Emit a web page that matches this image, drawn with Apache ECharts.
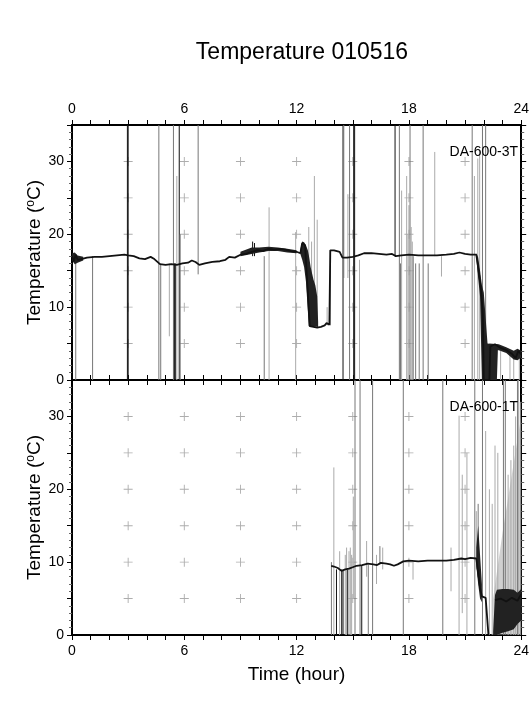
<!DOCTYPE html>
<html>
<head>
<meta charset="utf-8">
<script src="https://cdn.jsdelivr.net/npm/echarts@6/dist/echarts.min.js"></script>
<style>
html, body { margin: 0; padding: 0; background: #fff; }
#main { width: 532px; height: 708px; }
</style>
</head>
<body>
<div id="main"></div>
<script>
// axis labels and the little "+" grid
var hourLabels = [0, 6, 12, 18, 24];
var tempLabels = [0, 10, 20, 30];
var crossHours = [3, 6, 9, 12, 15, 18, 21];
var crossTemps = [5, 10, 15, 20, 25, 30];

// DA-600-3T : [hour, temp]
var lineTop = [
  [0, 17.0], [0.1, 16.3], [0.2, 17.2], [0.3, 16.5], [0.5, 16.6], [0.8, 16.8], [1.2, 16.9], [1.6, 16.9],
  [2.0, 17.0], [2.4, 17.1], [2.8, 17.2], [3.0, 17.1], [3.3, 17.0], [3.6, 16.7], [3.9, 16.6], [4.2, 16.9],
  [4.4, 16.6], [4.7, 15.9], [5.0, 15.8], [5.3, 15.9], [5.6, 15.8], [5.9, 16.0], [6.2, 16.1], [6.4, 16.4],
  [6.6, 16.2], [6.8, 15.8], [7.1, 16.0], [7.5, 16.2], [7.9, 16.3], [8.2, 16.5], [8.4, 16.9], [8.7, 16.8],
  [9.0, 17.2], [9.3, 17.3], [9.6, 17.6], [9.9, 17.8], [10.2, 17.7], [10.5, 18.0], [10.8, 17.9], [11.1, 18.0],
  [11.4, 17.9], [11.7, 17.7], [12.0, 17.6], [12.2, 17.4], [12.3, 18.8], [12.45, 18.5], [12.6, 12.0], [12.7, 7.4],
  [13.1, 7.2], [13.3, 7.3], [13.5, 7.5], [13.6, 7.8], [13.75, 7.6], [13.8, 17.8], [14.0, 17.8], [14.3, 17.6],
  [14.45, 16.8], [14.7, 16.8], [15.0, 16.9], [15.3, 17.1], [15.6, 17.4], [16.0, 17.4], [16.4, 17.3], [16.8, 17.2],
  [17.1, 17.3], [17.3, 17.0], [17.6, 17.1], [18.0, 17.2], [18.5, 17.1], [19.0, 17.1], [19.5, 17.1], [20.0, 17.2],
  [20.4, 17.3], [20.7, 17.5], [21.0, 17.3], [21.3, 17.2], [21.6, 17.2], [21.75, 14.5], [21.85, 12.5], [21.95, 9.0],
  [22.0, 0], [22.3, 0], [22.35, 4.6], [22.6, 4.9], [22.9, 4.4], [23.2, 4.1], [23.5, 3.6], [23.7, 3.0],
  [23.85, 4.0], [24, 3.5]
];
// noisy stretches: [hour, low, high]
var bandsTop = [
  [[0, 16.4, 17.4], [0.15, 15.9, 17.5], [0.3, 16.1, 17.1], [0.6, 16.4, 16.9]],
  [[9.0, 17.0, 17.6], [9.6, 17.3, 18.2], [10.0, 17.5, 18.2], [10.5, 17.7, 18.3], [11.0, 17.7, 18.2], [11.5, 17.5, 18.0], [12.0, 17.4, 17.8]],
  [[12.2, 17.3, 17.9], [12.3, 16.5, 19.0], [12.4, 15.5, 18.9], [12.5, 13.5, 18.5], [12.6, 9.5, 17.8], [12.65, 7.4, 17.2], [12.75, 7.3, 15.5], [12.9, 7.3, 13.8], [13.0, 7.3, 13.0], [13.1, 7.3, 11.5], [13.15, 7.2, 8.0]],
  [[21.6, 16.8, 17.4], [21.7, 14.0, 16.8], [21.8, 11.5, 15.0], [21.9, 0, 13.0], [22.0, 0, 12.0], [22.2, 0, 5.0], [22.7, 0, 4.8], [22.75, 3.8, 4.9]],
  [[22.3, 4.1, 5.0], [22.8, 4.1, 4.9], [23.2, 3.7, 4.5], [23.6, 2.8, 4.0], [23.8, 2.7, 4.3], [24, 3.1, 4.0]]
];
// spikes: [hour, low, high, shade 0 black / 1 grey / 2 light grey]
var spikesTop = [
  [0.2, 0, 17, 1], [1.1, 0, 17, 1], [2.96, 0, 35, 0], [3.0, 0, 35, 0], [4.64, 0, 35, 1], [4.74, 0, 16, 1],
  [5.2, 6, 16, 2], [5.42, 0, 35, 1], [5.47, 0, 16, 0], [5.52, 0, 16, 0], [5.6, 0, 28, 2], [5.73, 0, 35, 0],
  [5.78, 0, 20, 1], [6.74, 14.5, 35, 1], [9.65, 17, 19, 0], [9.75, 17, 18.8, 0], [10.27, 0, 17, 1],
  [10.53, 0, 23.7, 2], [11.95, 0, 20.3, 2],
  [12.65, 13, 21, 2], [12.8, 8, 19, 2], [12.95, 7.5, 28, 2], [13.1, 7.5, 22, 2], [13.63, 7.5, 10, 2],
  [13.8, 7.5, 17.8, 1], [14.48, 0, 35, 0], [14.52, 14, 35, 1], [14.74, 14, 25.5, 2], [14.83, 0, 35, 1],
  [15.05, 0, 35, 0], [15.1, 0, 35, 0], [15.36, 0, 16.5, 2], [17.26, 17, 35, 0], [17.49, 0, 35, 1],
  [17.55, 0, 16, 1], [17.61, 0, 26, 2], [17.88, 0, 28, 2], [17.95, 0, 20, 2], [18.0, 0, 24, 2], [18.06, 0, 35, 1],
  [18.12, 0, 21, 2], [18.18, 0, 19, 2], [18.23, 0, 17, 1], [18.36, 0, 16, 1], [18.55, 0, 16, 1], [18.76, 0, 35, 1],
  [19.03, 0, 16, 1], [19.38, 17, 31.3, 2], [19.74, 14.2, 17, 2], [21.38, 0, 35, 1], [21.5, 0, 28, 2],
  [21.68, 0, 30.4, 2], [21.78, 0, 31.5, 2], [21.93, 0, 35, 1], [22.1, 0, 35, 1], [22.9, 0, 4, 2],
  [23.4, 0, 4, 2], [23.6, 0, 3, 2], [23.9, 0, 4, 2]
];

// DA-600-1T
var lineBottom = [
  [13.85, 9.5], [14.0, 9.4], [14.2, 9.2], [14.4, 8.8], [14.6, 9.0], [14.8, 9.1], [15.0, 9.3], [15.2, 9.5],
  [15.5, 9.6], [15.8, 9.8], [16.1, 9.7], [16.3, 9.6], [16.5, 9.9], [16.8, 9.8], [17.0, 9.7], [17.2, 9.5],
  [17.4, 9.7], [17.7, 10.1], [18.0, 10.2], [18.5, 10.1], [19.0, 10.2], [19.5, 10.2], [20.0, 10.2], [20.4, 10.3],
  [20.8, 10.5], [21.0, 10.4], [21.3, 10.6], [21.6, 10.5], [21.8, 6.5], [21.9, 5.3], [22.0, 5.5], [22.1, 5.1],
  [22.2, 5.3], [22.25, 0], [22.4, null], [22.6, 4.8], [22.9, 5.0], [23.2, 4.6], [23.5, 5.1], [23.8, 4.7],
  [24, 5.6]
];
var bandsBottom = [
  [[22.5, 0, 5], [23.0, 0, 14], [23.5, 0, 22], [24, 0, 30]],
  [[21.6, 9.5, 12], [21.7, 7, 15], [21.8, 5, 11], [21.9, 4.5, 7]],
  [[22.5, 0, 0.5], [22.6, 0, 5.5], [22.7, 0, 6.2], [23.0, 0.3, 6.3], [23.3, 0.5, 6.3], [23.6, 0.8, 6.2], [23.8, 1.5, 5.8], [24, 2.0, 6.3]]
];
var spikesBottom = [
  [13.86, 0, 10, 1], [13.99, 0, 23, 2], [14.13, 0, 9, 0], [14.3, 0, 11.5, 2], [14.41, 0, 9, 0], [14.48, 0, 8.8, 0],
  [14.6, 0, 11, 2], [14.67, 0, 12, 2], [14.73, 0, 9, 0], [14.8, 0, 11.5, 2], [14.87, 0, 12, 2], [14.94, 0, 11, 2],
  [15.03, 5, 19, 2], [15.12, 0, 35, 1], [15.39, 0, 35, 1], [15.48, 0, 9.5, 0], [15.74, 8, 12.9, 2],
  [15.83, 0, 9.6, 1], [16.06, 0, 35, 1], [16.27, 7, 11, 2], [16.45, 9.7, 12.2, 1], [16.6, 9, 12, 2],
  [17.7, 0, 35, 1], [18.22, 7.6, 10, 2], [19.81, 0, 35, 1], [20.25, 6, 12, 2], [20.68, 0, 30.1, 2],
  [20.85, 3, 22, 2], [21.1, 0, 25, 2], [21.52, 0, 35, 1], [21.6, 9, 17, 2], [21.7, 8, 18, 1],
  [21.93, 0, 35, 1], [22.1, 0, 28, 2], [22.3, 0, 20, 2], [22.45, 0, 18, 2], [22.6, 0, 26, 2], [22.75, 0, 25, 2],
  [23.05, 0, 35, 1], [23.15, 0, 35, 1], [23.3, 0, 22, 2], [23.45, 0, 24, 2], [23.6, 0, 26, 2], [23.7, 0, 30, 2],
  [23.8, 0, 35, 1], [23.85, 0, 35, 2], [23.95, 0, 32, 2]
];

var shades = ['#111', '#777', '#aaa'];
var font = 'Liberation Sans, Arial, Helvetica, sans-serif';

var crosses = [];
crossHours.forEach(function (h) {
  crossTemps.forEach(function (t) { crosses.push([h, t]); });
});

function spikeItem(params, api) {
  var p0 = api.coord([api.value(0), api.value(1)]);
  var p1 = api.coord([api.value(0), api.value(2)]);
  return {
    type: 'line',
    shape: { x1: p0[0], y1: p0[1], x2: p1[0], y2: p1[1] },
    style: { stroke: shades[api.value(3)], lineWidth: 1 }
  };
}

function bandSeries(band, idx, fill, z) {
  return {
    type: 'custom', xAxisIndex: idx * 2, yAxisIndex: idx * 2, z: z, silent: true, clip: true,
    data: band,
    renderItem: function (params, api) {
      if (params.dataIndex !== 0) return;
      var pts = band.map(function (p) { return api.coord([p[0], p[1]]); });
      band.slice().reverse().forEach(function (p) { pts.push(api.coord([p[0], p[2]])); });
      return { type: 'polygon', shape: { points: pts }, style: { fill: fill } };
    }
  };
}

function xAxis(grid, pos, labels, name) {
  return {
    type: 'value', gridIndex: grid, position: pos, min: 0, max: 24, interval: 6,
    name: name || '', nameLocation: 'middle', nameGap: 30, nameMoveOverlap: false,
    nameTextStyle: { fontFamily: font, fontSize: 19, color: '#000' },
    axisLine: { onZero: false, lineStyle: { color: '#000', width: 2 } },
    axisTick: { show: true, length: 5, lineStyle: { color: '#000' } },
    minorTick: { show: true, splitNumber: 6, length: 5, lineStyle: { color: '#000' } },
    axisLabel: {
      show: labels, margin: 9, fontFamily: font, fontSize: 14, color: '#000',
      formatter: function (v) { return hourLabels.indexOf(v) >= 0 ? String(v) : ''; }
    },
    splitLine: { show: false }
  };
}

function yAxis(grid, pos, labels) {
  return {
    type: 'value', gridIndex: grid, position: pos, min: 0, max: 35, interval: 5,
    name: labels ? 'Temperature ({s|o}C)' : '', nameLocation: 'middle', nameGap: 28,
    nameMoveOverlap: false,
    nameTextStyle: {
      fontFamily: font, fontSize: 19, color: '#000',
      rich: { s: { fontFamily: font, fontSize: 12, color: '#000', verticalAlign: 'top', lineHeight: 14, padding: [0, 0, 8, 0] } }
    },
    axisLine: { onZero: false, lineStyle: { color: '#000', width: 2 } },
    axisTick: { show: true, length: 5, lineStyle: { color: '#000' } },
    minorTick: { show: true, splitNumber: 5, length: 3, lineStyle: { color: '#666' } },
    axisLabel: {
      show: labels, margin: 8, fontFamily: font, fontSize: 14, color: '#000',
      formatter: function (v) { return tempLabels.indexOf(v) >= 0 ? String(v) : ''; }
    },
    splitLine: { show: false }
  };
}

var series = [];
[[lineTop, bandsTop, spikesTop], [lineBottom, bandsBottom, spikesBottom]].forEach(function (set, i) {
  series.push({
    type: 'scatter', xAxisIndex: i * 2, yAxisIndex: i * 2, silent: true, z: 1,
    symbol: 'path://M4.5,0h1v4.5h4.5v1h-4.5v4.5h-1v-4.5h-4.5v-1h4.5z', symbolSize: 9,
    itemStyle: { color: '#999' }, data: crosses
  });
  set[1].forEach(function (b, k) {
    var light = (i === 1 && k === 0);
    series.push(bandSeries(b, i, light ? 'rgba(150,150,150,0.45)' : '#222', light ? 2 : 4));
  });
  series.push({
    type: 'custom', xAxisIndex: i * 2, yAxisIndex: i * 2, silent: true, z: 3, clip: true,
    renderItem: spikeItem, data: set[2]
  });
  series.push({
    type: 'line', xAxisIndex: i * 2, yAxisIndex: i * 2, silent: true, z: 5,
    showSymbol: false, symbol: 'none', connectNulls: false,
    lineStyle: { color: '#111', width: 1.8 }, data: set[0]
  });
});

var myChart = echarts.init(document.getElementById('main'), null, { renderer: 'canvas' });
myChart.setOption({
  backgroundColor: '#fff',
  animation: false,
  title: [
    { text: 'Temperature 010516', left: 297, textAlign: 'center', top: 36,
      textStyle: { fontFamily: font, fontSize: 23, fontWeight: 'normal', color: '#000' } },
    { text: 'DA-600-3T', right: 9, top: 140,
      textStyle: { fontFamily: font, fontSize: 14, fontWeight: 'normal', color: '#000' } },
    { text: 'DA-600-1T', right: 9, top: 395,
      textStyle: { fontFamily: font, fontSize: 14, fontWeight: 'normal', color: '#000' } }
  ],
  grid: [
    { left: 72, right: 7, top: 125, height: 255 },
    { left: 72, right: 7, top: 380, height: 255 }
  ],
  xAxis: [
    xAxis(0, 'top', true), xAxis(0, 'bottom', false),
    xAxis(1, 'bottom', true, 'Time (hour)'), xAxis(1, 'top', false)
  ],
  yAxis: [
    yAxis(0, 'left', true), yAxis(0, 'right', false),
    yAxis(1, 'left', true), yAxis(1, 'right', false)
  ],
  series: series
});
</script>
</body>
</html>
